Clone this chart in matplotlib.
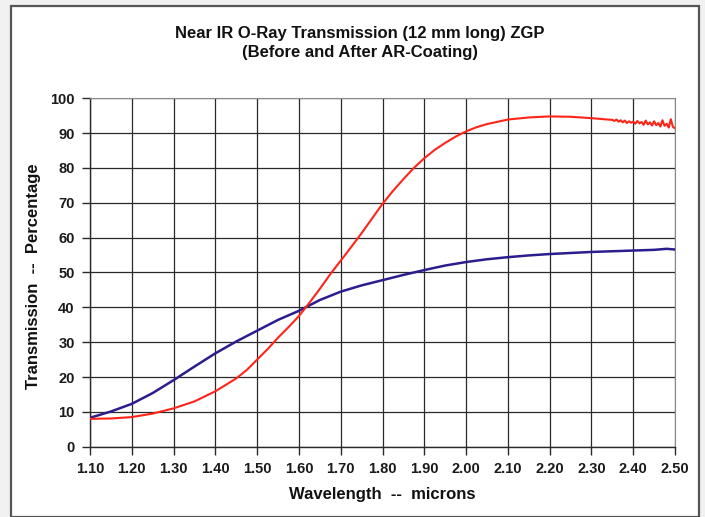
import numpy as np
import matplotlib
matplotlib.use("Agg")
import matplotlib.pyplot as plt
from matplotlib.patches import Rectangle

# ---- data ----
# After AR-coating (red)
wl = [1.10, 1.15, 1.20, 1.25, 1.30, 1.35, 1.40, 1.45, 1.475, 1.50, 1.525, 1.55, 1.575,
      1.60, 1.625, 1.65, 1.675, 1.70, 1.725, 1.75, 1.775, 1.80, 1.825, 1.85, 1.875,
      1.90, 1.925, 1.95, 1.975, 2.00, 2.025, 2.05, 2.10, 2.15, 2.20, 2.25, 2.30, 2.35]
after_ar = [8.0, 8.1, 8.5, 9.5, 11.0, 13.0, 15.9, 19.6, 22.0, 25.0, 28.0, 31.3, 34.3,
            37.5, 41.3, 45.3, 49.5, 53.4, 57.3, 61.3, 65.5, 69.7, 73.4, 76.8, 80.0,
            82.8, 85.2, 87.2, 89.0, 90.5, 91.7, 92.6, 93.9, 94.5, 94.8, 94.7, 94.3, 93.8]
# noisy tail of the red curve, 2.355 .. 2.500
wl_tail = [2.355, 2.36, 2.365, 2.37, 2.375, 2.38, 2.385, 2.39, 2.395, 2.40, 2.405, 2.41,
           2.415, 2.42, 2.425, 2.43, 2.435, 2.44, 2.445, 2.45, 2.455, 2.46, 2.465, 2.47,
           2.475, 2.48, 2.485, 2.49, 2.495, 2.50]
after_tail = [93.5, 93.9, 93.3, 93.7, 93.1, 93.6, 92.9, 93.4, 93.0, 93.3, 92.7, 93.5,
              92.8, 93.2, 92.4, 93.6, 92.5, 93.1, 92.2, 93.4, 92.3, 92.9, 91.9, 93.7,
              92.1, 92.7, 91.6, 94.0, 91.8, 91.4]

# Before AR-coating (blue)
wl_b = [1.10, 1.15, 1.20, 1.25, 1.30, 1.35, 1.40, 1.45, 1.50, 1.55, 1.60, 1.65, 1.70,
        1.75, 1.80, 1.85, 1.90, 1.95, 2.00, 2.05, 2.10, 2.15, 2.20, 2.25, 2.30, 2.35,
        2.40, 2.45, 2.48, 2.50]
before_ar = [8.3, 10.1, 12.3, 15.4, 19.1, 23.0, 26.8, 30.2, 33.3, 36.4, 39.0, 42.1, 44.5,
             46.3, 47.8, 49.3, 50.7, 52.0, 53.0, 53.8, 54.4, 54.9, 55.3, 55.6, 55.9, 56.1,
             56.3, 56.5, 56.8, 56.6]

xticks = [1.10, 1.20, 1.30, 1.40, 1.50, 1.60, 1.70, 1.80, 1.90, 2.00, 2.10, 2.20, 2.30,
          2.40, 2.50]
yticks = [0, 10, 20, 30, 40, 50, 60, 70, 80, 90, 100]

title = "Near IR O-Ray Transmission (12 mm long) ZGP\n(Before and After AR-Coating)"
xlabel = "Wavelength  --  microns"
ylabel = "Transmission  --  Percentage"

# ---- figure ----
plt.rcParams['font.family'] = ['Liberation Sans', 'DejaVu Sans']
fig = plt.figure(figsize=(7.05, 5.17), dpi=100)
fig.patch.set_facecolor('#f1f1f1')
fig.patches.append(Rectangle((11 / 705, 0.0), (699 - 11) / 705, 1 - 6 / 517,
                             transform=fig.transFigure, facecolor='white',
                             edgecolor='#555555', linewidth=1.6, zorder=-10))

ax = fig.add_axes([90 / 705, 1 - 446.7 / 517, (675 - 90) / 705, (446.7 - 98.3) / 517])
ax.set_zorder(5)
ax.set_facecolor('white')

ax.plot(wl_b, before_ar, color='#2b1d8e', lw=1.8, zorder=3)
ax.plot(wl + wl_tail, after_ar + after_tail, color='#ff2418', lw=1.5, zorder=4)

ax.set_xlim(1.10, 2.50)
ax.set_ylim(0, 100)
ax.set_xticks(xticks)
ax.set_xticklabels([f"{t:.2f}" for t in xticks])
ax.set_yticks(yticks)
ax.grid(True, color='#2a2a2a', lw=0.9)
ax.set_axisbelow(True)

for s in ['top', 'right']:
    ax.spines[s].set_color('#8a8a8a')
    ax.spines[s].set_linewidth(0.8)
for s in ['left', 'bottom']:
    ax.spines[s].set_color('#2a2a2a')
    ax.spines[s].set_linewidth(1.0)

ax.tick_params(axis='both', direction='out', length=6, width=1.0, color='#2a2a2a',
               labelsize=10.5, pad=5)
for lab in ax.get_xticklabels() + ax.get_yticklabels():
    lab.set_fontweight('bold')
    lab.set_color('#1a1a1a')

fig.text(360 / 705, 1 - 43 / 517, title, ha='center', va='center', fontsize=12,
         fontweight='bold', color='#111111', linespacing=1.4)
fig.text(382 / 705, 1 - 495 / 517, xlabel, ha='center', va='center', fontsize=12,
         fontweight='bold', color='#111111')
fig.text(34 / 705, 1 - 276 / 517, ylabel, ha='center', va='center', fontsize=12,
         fontweight='bold', color='#111111', rotation=90)

fig.savefig('out.png', dpi=100, facecolor=fig.get_facecolor())
